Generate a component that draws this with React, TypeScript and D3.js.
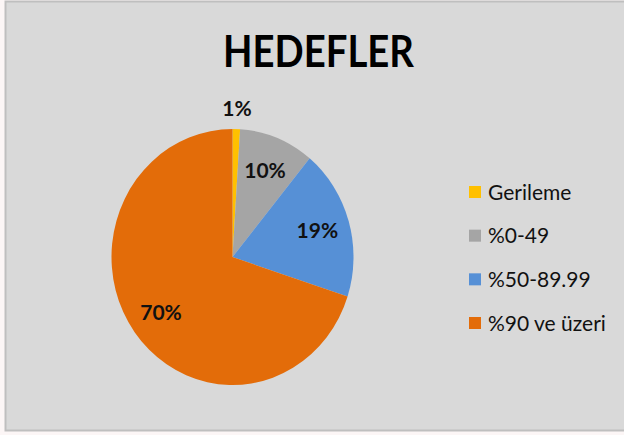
import React from "react";
import * as d3 from "d3";

const categories = ["Gerileme", "%0-49", "%50-89.99", "%90 ve üzeri"];
const values = [1, 10, 19, 70];
const colors = ["#FFC000", "#A5A5A5", "#5690D6", "#E36C09"];
const title = "HEDEFLER";

const W = 624;
const H = 435;
const cx = 232.5;
const cy = 257;
const R = 128;
const sx = 121 / 128;

export default function App() {
  const pie = d3
    .pie<number>()
    .sort(null)
    .value((d) => d)
    .startAngle(0)
    .endAngle(2 * Math.PI);
  const arcs = pie(values);
  const arc = d3.arc<d3.PieArcDatum<number>>().innerRadius(0).outerRadius(R);
  const total = d3.sum(values);

  const legendY = d3
    .scalePoint<string>()
    .domain(categories)
    .range([192, 323]);

  return (
    <svg
      width={W}
      height={H}
      style={{ position: "absolute", left: 0, top: 0, display: "block" }}
      fontFamily="Lato, 'Open Sans', sans-serif"
    >
      <rect x={0} y={0} width={W} height={H} fill="#FCF6F6" />
      <rect x={5.5} y={1.5} width={W + 10} height={429} fill="#D9D9D9" stroke="#BFBFBF" strokeWidth={2} />
      <text
        x={318.5}
        y={67}
        textAnchor="middle"
        fontSize={43}
        fontWeight={700}
        fill="#000"
        textLength={191}
        lengthAdjust="spacingAndGlyphs"
      >
        {title}
      </text>
      <g transform={`translate(${cx},${cy}) scale(${sx},1)`}>
        {arcs.map((a, i) => (
          <path key={i} d={arc(a) || ""} fill={colors[i]} />
        ))}
      </g>
      {arcs.map((a, i) => {
        const mid = (a.startAngle + a.endAngle) / 2;
        const pct = (a.value / total) * 100;
        const r = pct < 5 ? 149 : 93.5;
        const x = cx + Math.sin(mid) * r * sx;
        const y = cy - Math.cos(mid) * r;
        return (
          <text
            key={i}
            x={x}
            y={y}
            dy="0.36em"
            textAnchor="middle"
            fontSize={21}
            fontWeight={700}
            fill="#111"
          >
            {`${Math.round(pct)}%`}
          </text>
        );
      })}
      {categories.map((c, i) => {
        const y = legendY(c) as number;
        return (
          <g key={c}>
            <rect x={469} y={y - 6} width={12} height={12} fill={colors[i]} />
            <text x={488} y={y} dy="0.36em" fontSize={21} fill="#111">
              {c}
            </text>
          </g>
        );
      })}
    </svg>
  );
}
